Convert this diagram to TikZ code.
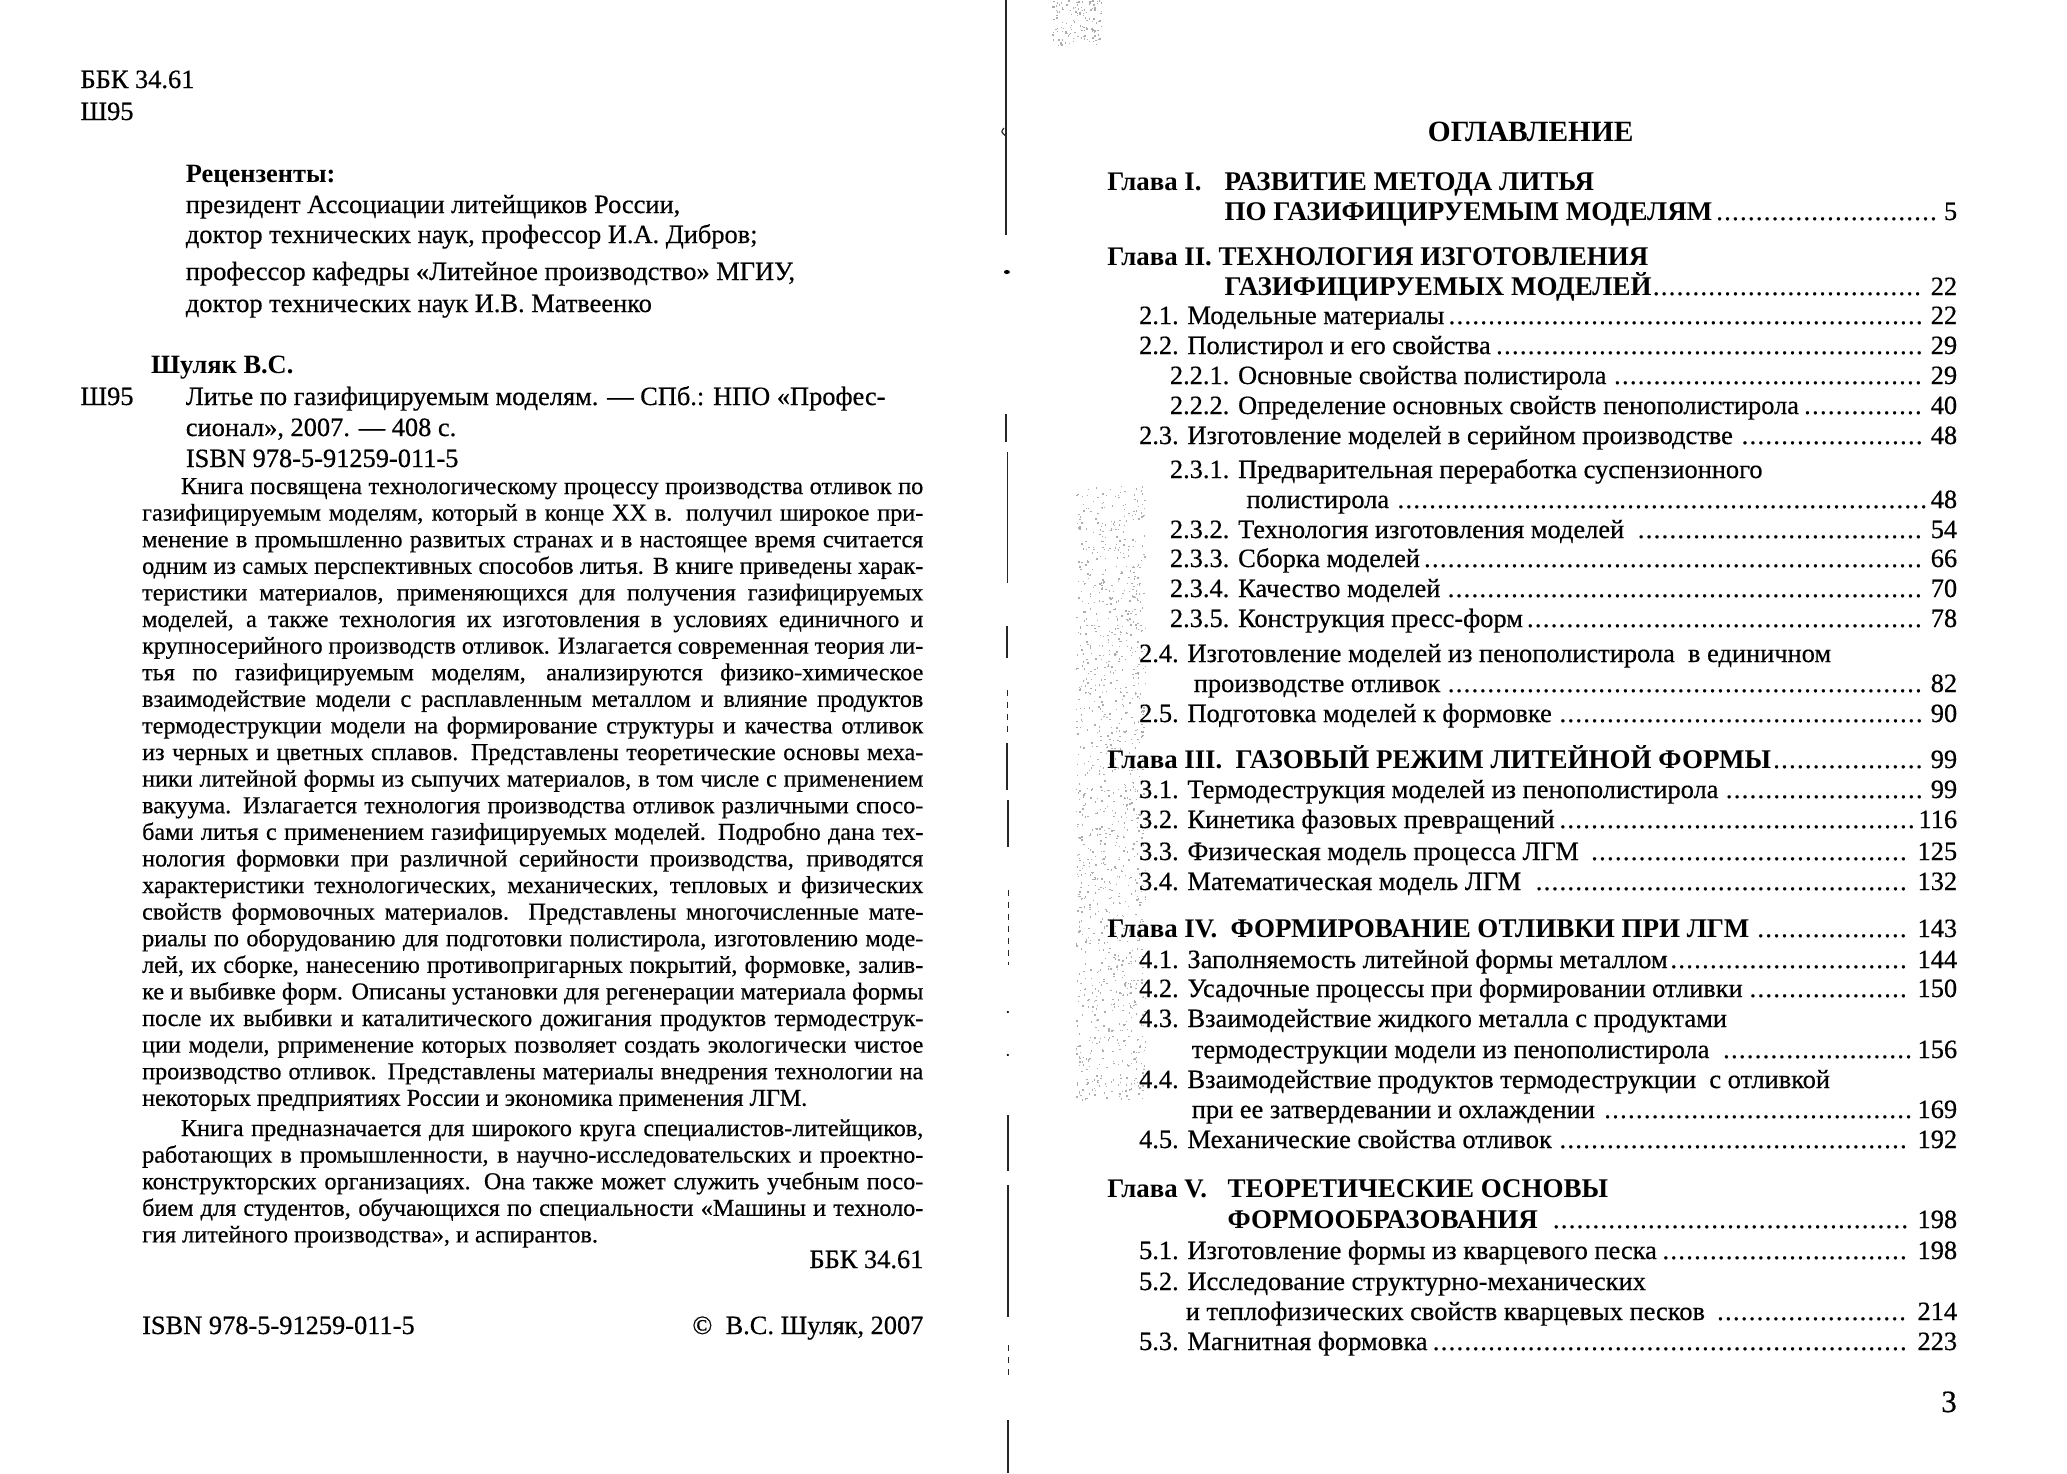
\documentclass[tikz,border=0pt]{standalone}
\usepackage{fontspec}
\setmainfont{Liberation Serif}[UprightFeatures={FakeBold=0.5}]
\newcommand\topfs{\fontsize{13.2pt}{14pt}\selectfont}
\newcommand\parfs{\fontsize{12.1pt}{13.3pt}\selectfont}
\newcommand\tocfs{\fontsize{13.2pt}{15pt}\selectfont}
\newcommand\chapfs{\fontsize{13.5pt}{15pt}\selectfont\bfseries}
\newcommand\glfs{\fontsize{13.4pt}{15pt}\selectfont\bfseries}
\newcommand\ogfs{\fontsize{14.7pt}{16pt}\selectfont\bfseries}
\newcommand\tocdots{\leaders\hbox to 0.3em{\hss.\hss}\hfill}
\tikzset{
 txt/.style={anchor=base west,inner sep=0pt,outer sep=0pt,font=\topfs},
 txtr/.style={anchor=base east,inner sep=0pt,outer sep=0pt,font=\topfs},
 par/.style={anchor=base west,inner sep=0pt,outer sep=0pt,font=\parfs},
 toc/.style={anchor=base west,inner sep=0pt,outer sep=0pt,font=\tocfs},
 chap/.style={anchor=base west,inner sep=0pt,outer sep=0pt,font=\chapfs},
 glava/.style={anchor=base west,inner sep=0pt,outer sep=0pt,font=\glfs},
 gutter/.style={line width=0.6pt,black!85},
 speck/.style={fill=black!32},
}
\newcommand\jl[3]{\node[par] (#1) at (143,#2) {\makebox[390.6pt][s]{#3}};}
\newcommand\tl[5]{\node[toc] (#1) at (#2,#3) {\hbox to \dimexpr 0.497pt*\numexpr 1969-#2\relax\relax{#4\tocdots\hspace{0.12em}#5}};}
\begin{document}
\begin{tikzpicture}[x=0.497pt,y=-0.5pt]
\useasboundingbox (0,0) rectangle (2079.5,1473);
\fill[white] (0,0) rectangle (2079.5,1473);

% ---------------- left page ----------------
\node[txt] (bbk) at (81,88) {ББК 34.61};
\node[txt] (sh1) at (81,120) {Ш95};
\node[txt,font=\topfs\bfseries] (rec) at (187,182) {Рецензенты:};
\node[txt] (r1) at (187,213) {президент Ассоциации литейщиков России,};
\node[txt] (r2) at (187,243) {доктор технических наук, профессор И.А. Дибров;};
\node[txt] (r3) at (187,280) {профессор кафедры «Литейное производство» МГИУ,};
\node[txt] (r4) at (187,312) {доктор технических наук И.В. Матвеенко};
\node[txt,font=\topfs\bfseries] (auth) at (152,373) {Шуляк В.С.};
\node[txt] (sh2) at (81,405) {Ш95};
\node[txt] (t1) at (187,405) {Литье по газифицируемым моделям. — СПб.: НПО «Профес-};
\node[txt] (t2) at (187,436) {сионал», 2007. — 408 с.};
\node[txt] (t3) at (187,467) {ISBN 978-5-91259-011-5};

\node[par] (p1) at (182,494) {\makebox[371.2pt][s]{Книга посвящена технологическому процессу производства отливок по}};
\jl{p2}{520.6}{газифицируемым моделям, который в конце XX в. получил широкое при-}
\jl{p3}{547.2}{менение в промышленно развитых странах и в настоящее время считается}
\jl{p4}{573.8}{одним из самых перспективных способов литья. В книге приведены харак-}
\jl{p5}{600.4}{теристики материалов, применяющихся для получения газифицируемых}
\jl{p6}{627}{моделей, а также технология их изготовления в условиях единичного и}
\jl{p7}{653.6}{крупносерийного производств отливок. Излагается современная теория ли-}
\jl{p8}{680.2}{тья по газифицируемым моделям, анализируются физико-химическое}
\jl{p9}{706.8}{взаимодействие модели с расплавленным металлом и влияние продуктов}
\jl{p10}{733.4}{термодеструкции модели на формирование структуры и качества отливок}
\jl{p11}{760}{из черных и цветных сплавов. Представлены теоретические основы меха-}
\jl{p12}{786.6}{ники литейной формы из сыпучих материалов, в том числе с применением}
\jl{p13}{813.2}{вакуума. Излагается технология производства отливок различными спосо-}
\jl{p14}{839.8}{бами литья с применением газифицируемых моделей. Подробно дана тех-}
\jl{p15}{866.4}{нология формовки при различной серийности производства, приводятся}
\jl{p16}{893}{характеристики технологических, механических, тепловых и физических}
\jl{p17}{919.6}{свойств формовочных материалов. Представлены многочисленные мате-}
\jl{p18}{946.2}{риалы по оборудованию для подготовки полистирола, изготовлению моде-}
\jl{p19}{972.8}{лей, их сборке, нанесению противопригарных покрытий, формовке, залив-}
\jl{p20}{999.4}{ке и выбивке форм. Описаны установки для регенерации материала формы}
\jl{p21}{1026}{после их выбивки и каталитического дожигания продуктов термодеструк-}
\jl{p22}{1052.6}{ции модели, рприменение которых позволяет создать экологически чистое}
\jl{p23}{1079.2}{производство отливок. Представлены материалы внедрения технологии на}
\node[par] (p24) at (143,1105.8) {некоторых предприятиях России и экономика применения ЛГМ.};

\node[par] (q1) at (182,1136) {\makebox[371.2pt][s]{Книга предназначается для широкого круга специалистов-литейщиков,}};
\jl{q2}{1162.6}{работающих в промышленности, в научно-исследовательских и проектно-}
\jl{q3}{1189.2}{конструкторских организациях. Она также может служить учебным посо-}
\jl{q4}{1215.8}{бием для студентов, обучающихся по специальности «Машины и техноло-}
\node[par] (q5) at (143,1242.4) {гия литейного производства», и аспирантов.};

\node[txtr] (bbk2) at (929,1268) {ББК 34.61};
\node[txt] (isbn) at (143,1334) {ISBN 978-5-91259-011-5};
\node[txtr] (copy) at (929,1334) {©\ \ В.С. Шуляк, 2007};

% ---------------- gutter ----------------
\draw[gutter] (1012,0) -- (1012,235);
\draw[gutter] (1010,128) .. controls (1007,132) .. (1012,136);
\fill[black] (1013,272) ellipse (3 and 2);
\draw[gutter] (1012,414) -- (1012,442);
\draw[gutter,line width=0.4pt] (1013,452) -- (1013,583);
\draw[gutter] (1013,626) -- (1013,658);
\draw[gutter,line width=0.4pt,dashed] (1013,690) -- (1013,735);
\draw[gutter] (1013,743) -- (1013,790);
\draw[gutter] (1014,800) -- (1014,847);
\draw[gutter,line width=0.4pt,dashed] (1014,890) -- (1014,965);
\fill[black] (1014,1012) circle (1.2);
\fill[black] (1014,1055) circle (1.2);
\draw[gutter] (1014,1115) -- (1014,1171);
\draw[gutter] (1014,1185) -- (1014,1317);
\draw[gutter,line width=0.4pt,dashed] (1014,1345) -- (1014,1375);
\draw[gutter] (1014,1420) -- (1014,1473);

% ---------------- scan specks ----------------
\pgfmathsetseed{12}
\foreach \i in {1,...,1200}{
  \pgfmathsetmacro\xx{1082+70*rnd}\pgfmathsetmacro\yy{485+615*rnd}
  \fill[speck] (\xx,\yy) rectangle ++(1.4,1.4);
}
\foreach \i in {1,...,130}{
  \pgfmathsetmacro\xx{1058+50*rnd}\pgfmathsetmacro\yy{45*rnd}
  \fill[speck] (\xx,\yy) rectangle ++(1.4,1.4);
}

% ---------------- right page ----------------
\node[anchor=base,inner sep=0pt,font=\ogfs] (og) at (1540,141) {ОГЛАВЛЕНИЕ};

\node[glava] (g1) at (1114,190) {Глава I.};
\node[chap] (c1a) at (1232,190) {РАЗВИТИЕ МЕТОДА ЛИТЬЯ};
\tl{c1b}{1232}{220}{{\chapfs ПО ГАЗИФИЦИРУЕМЫМ МОДЕЛЯМ}}{5}

\node[glava] (g2) at (1114,265) {Глава II.\ {\chapfs ТЕХНОЛОГИЯ ИЗГОТОВЛЕНИЯ}};
\tl{c2b}{1232}{295}{{\chapfs ГАЗИФИЦИРУЕМЫХ МОДЕЛЕЙ}}{22}
\tl{s21}{1146}{324}{2.1. Модельные материалы}{22}
\tl{s22}{1146}{354}{2.2. Полистирол и его свойства}{29}
\tl{s221}{1177}{384}{2.2.1. Основные свойства полистирола}{29}
\tl{s222}{1177}{414}{2.2.2. Определение основных свойств пенополистирола}{40}
\tl{s23}{1146}{444}{2.3. Изготовление моделей в серийном производстве }{48}
\node[toc] (s231a) at (1177,478) {2.3.1. Предварительная переработка суспензионного};
\tl{s231b}{1254}{508}{полистирола}{48}
\tl{s232}{1177}{538}{2.3.2. Технология изготовления моделей }{54}
\tl{s233}{1177}{567}{2.3.3. Сборка моделей}{66}
\tl{s234}{1177}{597}{2.3.4. Качество моделей }{70}
\tl{s235}{1177}{627}{2.3.5. Конструкция пресс-форм}{78}
\node[toc] (s24a) at (1146,662) {2.4. Изготовление моделей из пенополистирола\ \ в единичном};
\tl{s24b}{1201}{692}{производстве отливок}{82}
\tl{s25}{1146}{722}{2.5. Подготовка моделей к формовке }{90}

\tl{c3}{1114}{768}{{\glfs Глава III.}\ \ {\chapfs ГАЗОВЫЙ РЕЖИМ ЛИТЕЙНОЙ ФОРМЫ}}{99}
\tl{s31}{1146}{798}{3.1. Термодеструкция моделей из пенополистирола}{99}
\tl{s32}{1146}{828}{3.2. Кинетика фазовых превращений}{116}
\tl{s33}{1146}{860}{3.3. Физическая модель процесса ЛГМ }{125}
\tl{s34}{1146}{890}{3.4. Математическая модель ЛГМ }{132}

\tl{c4}{1114}{937}{{\glfs Глава IV.}\ \ {\chapfs ФОРМИРОВАНИЕ ОТЛИВКИ ПРИ ЛГМ}}{143}
\tl{s41}{1146}{968}{4.1. Заполняемость литейной формы металлом}{144}
\tl{s42}{1146}{997}{4.2. Усадочные процессы при формировании отливки}{150}
\node[toc] (s43a) at (1146,1027) {4.3. Взаимодействие жидкого металла с продуктами};
\tl{s43b}{1199}{1058}{термодеструкции модели из пенополистирола }{156}
\node[toc] (s44a) at (1146,1088) {4.4. Взаимодействие продуктов термодеструкции\ \ с отливкой};
\tl{s44b}{1199}{1118}{при ее затвердевании и охлаждении }{169}
\tl{s45}{1146}{1148}{4.5. Механические свойства отливок}{192}

\node[glava] (g5) at (1114,1197) {Глава V.};
\node[chap] (c5a) at (1235,1197) {ТЕОРЕТИЧЕСКИЕ ОСНОВЫ};
\tl{c5b}{1235}{1228}{{\chapfs ФОРМООБРАЗОВАНИЯ} }{198}
\tl{s51}{1146}{1259}{5.1. Изготовление формы из кварцевого песка}{198}
\node[toc] (s52a) at (1146,1290) {5.2. Исследование структурно-механических};
\tl{s52b}{1193}{1320}{и теплофизических свойств кварцевых песков }{214}
\tl{s53}{1146}{1350}{5.3. Магнитная формовка}{223}

\node[anchor=base east,inner sep=0pt,font=\fontsize{15.5pt}{16pt}\selectfont] (pgno) at (1969,1412) {3};
\end{tikzpicture}
\end{document}
